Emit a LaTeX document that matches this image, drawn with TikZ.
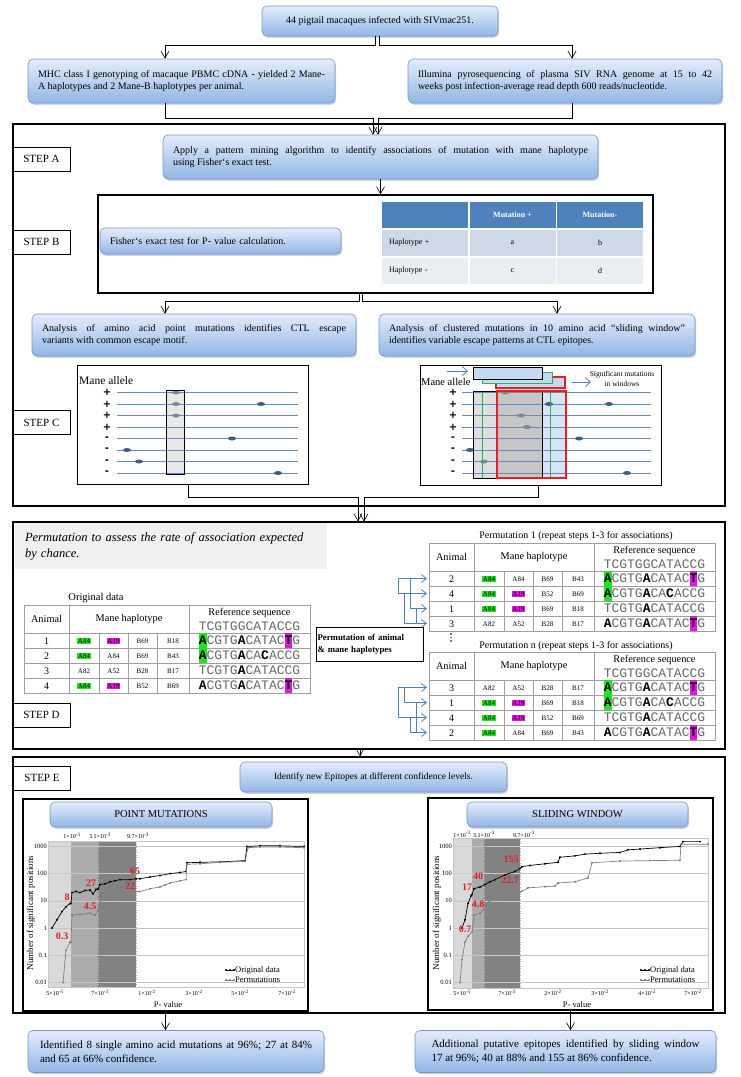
\documentclass[tikz,border=0pt]{standalone}
\usepackage{fontspec}
\setmainfont{Liberation Serif}
\setmonofont{Liberation Mono}
\newfontfamily\signfont{DejaVu Sans}
\usetikzlibrary{calc,shadows,arrows.meta}

\definecolor{boxtop}{RGB}{228,237,250}
\definecolor{boxbot}{RGB}{146,182,229}
\definecolor{boxline}{RGB}{112,150,205}
\definecolor{hdrblue}{RGB}{79,129,189}
\definecolor{rowa}{RGB}{208,216,232}
\definecolor{rowb}{RGB}{233,237,244}
\definecolor{hlgreen}{RGB}{30,228,30}
\definecolor{hlmag}{RGB}{228,20,228}
\definecolor{lineblue}{RGB}{105,138,186}
\definecolor{dotblue}{RGB}{62,92,136}
\definecolor{dotgray}{RGB}{122,136,160}
\definecolor{winblue}{RGB}{198,217,240}
\definecolor{winred}{RGB}{228,32,32}
\definecolor{wingreen}{RGB}{40,178,92}
\definecolor{arrblue}{RGB}{79,129,189}
\definecolor{numred}{RGB}{224,30,36}
\definecolor{permgray}{RGB}{240,240,240}

\newcommand\grnbox[1]{{\fboxsep=0.6pt\colorbox{hlgreen}{#1}}}
\newcommand\magbox[1]{{\fboxsep=0.6pt\colorbox{hlmag}{#1}}}
\newcommand\seqb[1]{{\bfseries\color{black}#1}}
\newcommand\seqg[1]{{\fboxsep=0pt\colorbox{hlgreen}{\rule[-3.5pt]{0pt}{15pt}\bfseries\color{black}#1}}}
\newcommand\seqm[1]{{\fboxsep=0pt\colorbox{hlmag}{\rule[-3.5pt]{0pt}{15pt}\bfseries\color{black}#1}}}

% grid of an animal table, drawn inside a shifted scope
\newcommand\hapgrid[1]{%
  \draw[tabline] (0,0) rectangle (286,88);
  \draw[tabline] (45,0) -- (45,88) (165,0) -- (165,88);
  \foreach \yy in {28,43,58,73} \draw[tabline] (0,\yy) -- (286,\yy);
  \foreach \xx in {75,104,133} \draw[tabline] (\xx,28) -- (\xx,88);
  \node[thead] (#1an) at (22.5,14) {Animal};
  \node[thead] (#1mh) at (105,14) {Mane haplotype};
  \node[thead] (#1rs) at (225.5,8) {Reference sequence};
  \node[seqtxt] (#1ref) at (225.5,25.5) {TCGTGGCATACCG};
}
% one row: prefix, row, animal, four haplotypes, sequence
\newcommand\haprow[8]{%
  \pgfmathsetmacro\hrb{24.5+15*#2}
  \pgfmathsetmacro\hrs{23+15*#2}
  \node[tnum] (#1a#2) at (22.5,\hrb) {#3};
  \node[thap] (#1h#2a) at (60,\hrs) {#4};
  \node[thap] (#1h#2b) at (89.5,\hrs) {#5};
  \node[thap] (#1h#2c) at (118.5,\hrs) {#6};
  \node[thap] (#1h#2d) at (149,\hrs) {#7};
  \node[seqtxt] (#1s#2) at (225.5,\hrb) {#8};
}

\tikzset{
  bluebox/.style={draw=boxline, line width=0.6pt, rounded corners=5pt,
    top color=boxtop, bottom color=boxbot,
    drop shadow={shadow xshift=1.2pt, shadow yshift=-1.8pt, opacity=0.35},
    font=\fontsize{10}{12.5}\selectfont, inner xsep=10pt, inner ysep=3pt},
  stepframe/.style={draw, line width=1.2pt, inner sep=0pt},
  steplabel/.style={draw, fill=white, line width=0.7pt, minimum width=57pt,
    minimum height=24pt, inner sep=0pt, font=\fontsize{11}{12}\selectfont},
  arr/.style={line width=0.6pt, -{Straight Barb[length=7pt,width=8pt]}},
  plotframe/.style={draw, line width=0.8pt, inner sep=0pt},
  graphframe/.style={draw, line width=1.3pt, inner sep=0pt},
  rowline/.style={draw=lineblue, line width=0.7pt},
  sign/.style={font=\signfont\bfseries\fontsize{10}{10}\selectfont, inner sep=0pt},
  tabline/.style={draw=gray!75, line width=0.6pt},
  thead/.style={font=\fontsize{10.3}{11}\selectfont, inner sep=0pt},
  tnum/.style={anchor=base, font=\fontsize{10}{11}\selectfont, inner sep=0pt},
  thap/.style={anchor=base, font=\fontsize{7}{8}\selectfont, inner sep=0pt},
  seqtxt/.style={anchor=base, inner sep=0pt, text=black!60,
    font=\ttfamily\fontsize{13}{13}\selectfont},
  thcell/.style={minimum width=86pt, minimum height=26pt, inner sep=0pt,
    font=\fontsize{8}{9}\selectfont},
  permarr/.style={draw=arrblue, line width=0.8pt, -{Straight Barb[length=5pt,width=8pt]}},
  winarr/.style={draw=arrblue, line width=0.8pt, -{Straight Barb[length=5pt,width=9pt]}},
  gridline/.style={draw=gray!45, line width=0.4pt},
  cutline/.style={draw=gray!60, line width=0.4pt, dotted},
  ytick/.style={anchor=east, font=\fontsize{6.5}{7}\selectfont, inner sep=1pt},
  xtick/.style={font=\fontsize{6}{7}\selectfont, inner sep=0pt},
  origcurve/.style={draw=black, line width=0.7pt, mark=*, mark size=0.6pt},
  permcurve/.style={draw=gray, line width=0.7pt, mark=*, mark size=0.6pt,
    mark options={fill=gray}},
  rednum/.style={text=numred, font=\bfseries\fontsize{10}{11}\selectfont, inner sep=0pt},
  legtxt/.style={anchor=west, font=\fontsize{8.5}{9}\selectfont, inner sep=0pt},
  shadeA/.style={fill=gray!30},
  shadeB/.style={fill=gray!66},
  shadeC/.style={fill=gray!98},
}

\begin{document}
\begin{tikzpicture}[x=1pt, y=-1pt]
\useasboundingbox (0,0) rectangle (740,1077);

%% animals and data
\node[bluebox, minimum width=236pt, minimum height=30pt] (pigtail) at (380,21) {44 pigtail macaques infected with SIVmac251.};
\node[bluebox, text width=287pt, minimum height=44pt, align=justify] (mhc) at (181.5,81) {MHC class I genotyping of macaque PBMC cDNA - yielded 2 Mane-\linebreak A haplotypes and 2 Mane-B haplotypes per animal.};
\node[bluebox, text width=294pt, minimum height=44pt, align=justify] (illumina) at (565,81) {Illumina pyrosequencing of plasma SIV RNA genome at 15 to 42\linebreak weeks post infection-average read depth 600 reads/nucleotide.};

\draw[arr] ([xshift=-5pt]pigtail.south) -- ++(0,9) -| ([xshift=-16.5pt]mhc.north);
\draw[arr] ([xshift=-1pt]pigtail.south) -- ++(0,9) -| ([xshift=7pt]illumina.north);

%% steps A to C
\node[stepframe, minimum width=712pt, minimum height=382pt] (frameAC) at (369,315) {};
\node[steplabel] (labA) at (41.5,159) {STEP A};
\node[bluebox, text width=415pt, minimum height=44pt, align=justify] (stepA) at (380.5,157) {Apply a pattern mining algorithm to identify associations of mutation with mane haplotype\linebreak using Fisher`s exact test.};
\draw[arr] ([xshift=-16.5pt]mhc.south) -- ++(0,15) -| ([xshift=-7.5pt]stepA.north);
\draw[arr] ([xshift=7pt]illumina.south) -- ++(0,15) -| ([xshift=-2.5pt]stepA.north);

\node[stepframe, line width=1.5pt, minimum width=555pt, minimum height=98pt] (stepB) at (375.5,244) {};
\draw[arr] (stepA.south) -- (stepA.south |- stepB.north);
\node[steplabel] (labB) at (41.5,242) {STEP B};
\node[bluebox, minimum width=241pt, minimum height=26pt, text width=221pt, align=left] (fisher) at (220.5,241) {Fisher`s exact test for P- value calculation.};

% contingency table
\node[thcell, fill=hdrblue] (tb11) at (425,215) {};
\node[thcell, fill=hdrblue, text=white, font=\bfseries\fontsize{8}{9}\selectfont] (tb12) at (512.5,215) {Mutation +};
\node[thcell, fill=hdrblue, text=white, font=\bfseries\fontsize{8}{9}\selectfont] (tb13) at (600,215) {Mutation-};
\node[thcell, fill=rowa, text width=72pt, align=left] (tb21) at (425,243) {Haplotype +};
\node[thcell, fill=rowa] (tb22) at (512.5,243) {a};
\node[thcell, fill=rowa] (tb23) at (600,243) {b};
\node[thcell, fill=rowb, text width=72pt, align=left] (tb31) at (425,271) {Haplotype -};
\node[thcell, fill=rowb] (tb32) at (512.5,271) {c};
\node[thcell, fill=rowb] (tb33) at (600,271) {d};

\node[bluebox, text width=304pt, minimum height=42pt, align=justify] (anL) at (194,335) {Analysis of amino acid point mutations identifies CTL escape\linebreak variants with common escape motif.};
\node[bluebox, text width=296pt, minimum height=42pt, align=justify] (anR) at (537,335) {Analysis of clustered mutations in 10 amino acid ``sliding window''\linebreak identifies variable escape patterns at CTL epitopes.};
\draw[arr] ([xshift=-16.5pt]stepB.south) -- ++(0,8) -| ([xshift=-29pt]anL.north);
\draw[arr] ([xshift=-13.5pt]stepB.south) -- ++(0,8) -| ([xshift=20pt]anR.north);

\node[steplabel] (labC) at (41.5,422.5) {STEP C};

% point mutations sketch
\node[plotframe, minimum width=231pt, minimum height=119pt] (plotL) at (192.5,424.5) {};
\node[anchor=west, inner sep=0pt, font=\fontsize{11.5}{12}\selectfont] (maneL) at (79,381) {Mane allele};
\fill[gray!18] (166,390) rectangle (184,474);
\foreach \s [count=\i] in {+,+,+,+,-,-,-,-} {
  \node[sign] (sgL\i) at (107,{381+11.5*\i}) {\s};
  \draw[rowline] (117,{381+11.5*\i}) -- (298,{381+11.5*\i});
}
\foreach \x/\r/\c in {176/1/dotgray,176/2/dotgray,261/2/dotblue,176/3/dotgray,232/5/dotblue,127/6/dotblue,139/7/dotblue,278/8/dotblue}
  \fill[\c] (\x,{381+11.5*\r}) ellipse (4pt and 2pt);
\draw[line width=0.8pt] (166,390) rectangle (184,474);

% sliding window sketch
\node[plotframe, minimum width=241pt, minimum height=120pt] (plotR) at (540.5,425) {};
\node[anchor=west, inner sep=0pt, font=\fontsize{10.5}{11}\selectfont] (maneR) at (421,382) {Mane allele};
\fill[winblue!70] (497,391) rectangle (566,478);
\fill[gray!25] (473,391) rectangle (542,478);
\fill[gray!45] (497,391) rectangle (542,478);
\foreach \s [count=\i] in {+,+,+,+,-,-,-,-} {
  \node[sign] (sgR\i) at (453,{381+11.5*\i}) {\s};
  \draw[rowline] (462,{381+11.5*\i}) -- (651,{381+11.5*\i});
}
\foreach \x/\r/\c in {505/1/dotgray,549/2/dotblue,609/2/dotblue,521/3/dotgray,527/4/dotgray,579/5/dotblue,470/6/dotblue,484/7/dotgray,627/8/dotblue}
  \fill[\c] (\x,{381+11.5*\r}) ellipse (4pt and 2pt);
\draw[wingreen, line width=1pt] (482,391) rectangle (550,478);
\draw[line width=1pt] (473,391) rectangle (542,478);
\draw[winred, line width=1.1pt] (497,391) rectangle (566,478);
\filldraw[fill=winblue, draw=winred, line width=1.1pt] (496,377) rectangle (565,388);
\filldraw[fill=winblue, draw=wingreen, line width=1pt] (482,372) rectangle (552,383);
\filldraw[fill=winblue, draw=black, line width=1pt] (473,367) rectangle (542,379);
\coordinate (wa1) at (447,371);
\coordinate (wa2) at (468,371);
\coordinate (wb1) at (572,382);
\coordinate (wb2) at (591,382);
\draw[winarr] (wa1) -- (wa2);
\draw[winarr] (wb1) -- (wb2);
\node[align=center, inner sep=0pt, font=\fontsize{7.5}{9.5}\selectfont] (signote) at (622,379) {Significant mutations\\in windows};

%% step D
\node[stepframe, minimum width=712pt, minimum height=227pt] (frameD) at (369,635.5) {};
\draw[arr] ([xshift=-4.5pt]plotL.south) -- ++(0,13) -| ([xshift=-11pt]frameD.north);
\draw[arr] ([xshift=-2.5pt]plotR.south) -- ++(0,12) -| ([xshift=-5pt]frameD.north);
\node[fill=permgray, minimum width=312pt, minimum height=46pt, text width=292pt, align=left, inner xsep=10pt, font=\itshape\fontsize{12.5}{16}\selectfont] (permnote) at (171,546) {Permutation to assess the rate of association expected\\by chance.};
\node[steplabel] (labD) at (41.5,715) {STEP D};
\node[font=\fontsize{10.5}{12}\selectfont, inner sep=0pt] (origtitle) at (96,598) {Original data};
\begin{scope}[shift={(24,605)}]
  \hapgrid{o}
  \haprow{o}{1}{1}{\grnbox{A84}}{\magbox{A19}}{B69}{B18}{\seqg{A}CGTG\seqb{A}CATAC\seqm{T}G}
  \haprow{o}{2}{2}{\grnbox{A84}}{A84}{B69}{B43}{\seqg{A}CGTG\seqb{A}CA\seqb{C}ACCG}
  \haprow{o}{3}{3}{A82}{A52}{B28}{B17}{TCGTG\seqb{A}CATACCG}
  \haprow{o}{4}{4}{\grnbox{A84}}{\magbox{A19}}{B52}{B69}{\seqb{A}CGTG\seqb{A}CATAC\seqm{T}G}
\end{scope}
\node[draw, line width=0.7pt, minimum width=107pt, minimum height=34pt, text width=104pt, inner xsep=1.5pt, align=left, font=\bfseries\fontsize{8.8}{12}\selectfont] (permbox) at (369.5,644) {Permutation of animal\\\& mane haplotypes};

\node[font=\fontsize{10}{11}\selectfont, inner sep=0pt] (p1title) at (576,536) {Permutation 1 (repeat steps 1-3 for associations)};
\begin{scope}[shift={(429,543)}]
  \hapgrid{p}
  \haprow{p}{1}{2}{\grnbox{A84}}{A84}{B69}{B43}{\seqg{A}CGTG\seqb{A}CATAC\seqm{T}G}
  \haprow{p}{2}{4}{\grnbox{A84}}{\magbox{A19}}{B52}{B69}{\seqg{A}CGTG\seqb{A}CA\seqb{C}ACCG}
  \haprow{p}{3}{1}{\grnbox{A84}}{\magbox{A19}}{B69}{B18}{TCGTG\seqb{A}CATACCG}
  \haprow{p}{4}{3}{A82}{A52}{B28}{B17}{\seqb{A}CGTG\seqb{A}CATAC\seqm{T}G}
\end{scope}
\node[font=\fontsize{10}{11}\selectfont, inner sep=0pt] (pntitle) at (576,646) {Permutation n (repeat steps 1-3 for associations)};
\begin{scope}[shift={(429,652)}]
  \hapgrid{q}
  \haprow{q}{1}{3}{A82}{A52}{B28}{B17}{\seqg{A}CGTG\seqb{A}CATAC\seqm{T}G}
  \haprow{q}{2}{1}{\grnbox{A84}}{\magbox{A19}}{B69}{B18}{\seqg{A}CGTG\seqb{A}CA\seqb{C}ACCG}
  \haprow{q}{3}{4}{\grnbox{A84}}{\magbox{A19}}{B52}{B69}{TCGTG\seqb{A}CATACCG}
  \haprow{q}{4}{2}{\grnbox{A84}}{A84}{B69}{B43}{\seqb{A}CGTG\seqb{A}CATAC\seqm{T}G}
\end{scope}
\coordinate (dt1) at (451,633);
\coordinate (dt2) at (451,643);
\draw[arrblue, line width=1.6pt, dotted] (dt1) -- (dt2);

% shuffled rows
\foreach \i/\y in {1/578.5,2/593.5,3/608.5,4/623.5} \coordinate (pa\i) at (427,\y);
\foreach \i/\y in {1/687.5,2/702.5,3/717.5,4/732.5} \coordinate (qa\i) at (427,\y);
\draw[permarr] ([xshift=-4pt]pa2) -- ([xshift=-29pt]pa2) |- (pa1);
\draw[permarr] ([xshift=-4pt]pa4) -- ([xshift=-23pt]pa4) |- (pa2);
\draw[permarr] ([xshift=-4pt]pa1) -- ([xshift=-17pt]pa1) |- (pa3);
\draw[permarr] ([xshift=-4pt]pa3) -- ([xshift=-11pt]pa3) |- (pa4);
\draw[permarr] ([xshift=-4pt]qa3) -- ([xshift=-29pt]qa3) |- (qa1);
\draw[permarr] ([xshift=-4pt]qa1) -- ([xshift=-23pt]qa1) |- (qa2);
\draw[permarr] ([xshift=-4pt]qa4) -- ([xshift=-17pt]qa4) |- (qa3);
\draw[permarr] ([xshift=-4pt]qa2) -- ([xshift=-11pt]qa2) |- (qa4);

%% step E
\node[stepframe, minimum width=712pt, minimum height=256pt] (frameE) at (369,885) {};
\draw[arr] ([xshift=-9pt]frameD.south) -- ([xshift=-9pt]frameE.north);
\node[steplabel] (labE) at (42,778) {STEP E};
\node[bluebox, minimum width=267pt, minimum height=30pt, font=\fontsize{9.5}{11}\selectfont] (identify) at (373.5,777) {Identify new Epitopes at different confidence levels.};

% point mutations graph
\node[graphframe, minimum width=285pt, minimum height=212pt] (gpm) at (165.5,905) {};
\node[bluebox, minimum width=222pt, minimum height=25pt, font=\fontsize{10.5}{12}\selectfont] (pmtitle) at (161,814.5) {POINT MUTATIONS};
\begin{scope}[shift={(0,928)}, y=27.2pt]
  \fill[shadeA] (48,-2.17) rectangle (71,3.2);
  \fill[shadeB] (71,-2.17) rectangle (98,3.2);
  \fill[shadeC] (98,-2.17) rectangle (136,3.2);
  \draw[cutline] (71,-2.17) -- (71,3.2) (98,-2.17) -- (98,3.2) (136,-2.17) -- (136,3.2);
  \foreach \l in {-2,...,3} \draw[gridline] (48,\l) -- (304,\l);
  \draw[gridline] (48,-2.17) rectangle (304,3.2);
  \foreach \l/\lab [count=\k] in {3/1000,2/100,1/10,0/1,-1/0.1,-2/0.01}
    \node[ytick] (pmy\k) at (48,\l) {\lab};
  \foreach \x/\lab [count=\k] in {55/5×10\textsuperscript{-5},100/7×10\textsuperscript{-3},147/1×10\textsuperscript{-2},194/3×10\textsuperscript{-2},240/5×10\textsuperscript{-2},287/7×10\textsuperscript{-2}}
    \node[xtick] (pmx\k) at (\x,-2.39) {\lab};
  \foreach \x/\lab [count=\k] in {72/1×10\textsuperscript{-3},100/3.1×10\textsuperscript{-3},138/9.7×10\textsuperscript{-3}}
    \node[xtick] (pmt\k) at (\x,3.38) {\lab};
  \draw[origcurve] plot coordinates {(52,0) (57,0.301) (62,0.602) (66,0.778) (70,0.903) (71,0.903) (72,1.301) (76,1.342) (80,1.301) (85,1.380) (90,1.398) (93,1.255) (96,1.415) (98,1.431) (100,1.602) (105,1.623) (110,1.699) (115,1.740) (120,1.778) (130,1.778) (136,1.813) (140,1.813) (150,1.875) (160,1.929) (170,2) (180,2.041) (186,2.079) (187,2.398) (200,2.415) (220,2.431) (245,2.477) (247,3) (260,3.021) (280,3.021) (304,3)};
  \draw[permcurve] plot coordinates {(63,-2) (66,-0.824) (70,-0.523) (71,-0.523) (72,0.477) (80,0.505) (90,0.544) (95,0.477) (98,0.653) (100,1) (110,1.079) (120,1.255) (130,1.301) (136,1.342) (140,1.342) (150,1.447) (160,1.505) (165,1.580) (170,1.653) (180,1.740) (186,1.778) (187,2.342) (200,2.362) (220,2.415) (245,2.447) (248,2.954) (260,2.978) (280,2.978) (304,2.954)};
\end{scope}
\node[rotate=90, inner sep=0pt, font=\fontsize{9}{10}\selectfont] (pmylab) at (31,913) {Number of significant positions};
\node[inner sep=0pt, font=\fontsize{8.5}{9}\selectfont] (pmxlab) at (168,1005) {P- value};
\node[rednum] (pm65) at (135,871) {65};
\node[rednum] (pm27) at (91,883) {27};
\node[rednum] (pm8) at (67,897) {8};
\node[rednum] (pm22) at (130,886) {22};
\node[rednum] (pm45) at (90,906) {4.5};
\node[rednum] (pm03) at (62,936) {0.3};
\draw[origcurve] plot coordinates {(226,970) (230,970) (234,970)};
\draw[permcurve] plot coordinates {(226,980) (230,980) (234,980)};
\node[legtxt] (pmleg1) at (235,970) {Original data};
\node[legtxt] (pmleg2) at (235,980) {Permutations};

% sliding window graph
\node[graphframe, minimum width=285pt, minimum height=212pt] (gsw) at (570.5,904) {};
\node[bluebox, minimum width=221pt, minimum height=25pt, font=\fontsize{10.5}{12}\selectfont] (swtitle) at (577.5,814.5) {SLIDING WINDOW};
\begin{scope}[shift={(0,928)}, y=27.2pt]
  \fill[shadeA] (453,-2.2) rectangle (472,3.31);
  \fill[shadeB] (472,-2.2) rectangle (484,3.31);
  \fill[shadeC] (484,-2.2) rectangle (520,3.31);
  \draw[cutline] (472,-2.2) -- (472,3.31) (484,-2.2) -- (484,3.31) (520,-2.2) -- (520,3.31);
  \foreach \l in {-2,...,3} \draw[gridline] (453,\l) -- (708,\l);
  \draw[gridline] (453,-2.2) rectangle (708,3.31);
  \foreach \l/\lab [count=\k] in {3/1000,2/100,1/10,0/1,-1/0.1,-2/0.01}
    \node[ytick] (swy\k) at (453,\l) {\lab};
  \foreach \x/\lab [count=\k] in {462/5×10\textsuperscript{-5},507/7×10\textsuperscript{-3},553/2×10\textsuperscript{-2},600/3×10\textsuperscript{-2},647/4×10\textsuperscript{-2},693/7×10\textsuperscript{-2}}
    \node[xtick] (swx\k) at (\x,-2.39) {\lab};
  \foreach \x/\lab [count=\k] in {462/1×10\textsuperscript{-3},484/3.1×10\textsuperscript{-3},524/9.7×10\textsuperscript{-3}}
    \node[xtick] (swt\k) at (\x,3.45) {\lab};
  \draw[origcurve] plot coordinates {(462,0) (465,0.301) (468,0.903) (471,1.176) (472,1.230) (474,1.447) (480,1.505) (485,1.602) (490,1.699) (495,1.778) (505,1.954) (515,2.079) (520,2.190) (522,2.255) (530,2.301) (545,2.362) (558,2.415) (560,2.602) (575,2.653) (585,2.716) (600,2.748) (620,2.778) (628,2.875) (640,2.903) (660,2.954) (680,3) (683,3.176) (700,3.176)};
  \draw[permcurve] plot coordinates {(460,-2) (462,-1.155) (465,-0.523) (468,-0.301) (472,-0.155) (474,0.477) (480,0.544) (484,0.681) (486,0.903) (490,1) (500,1.146) (510,1.255) (520,1.301) (522,1.356) (528,1.477) (545,1.519) (555,1.544) (558,1.653) (575,1.699) (588,1.845) (592,2.398) (620,2.462) (650,2.477) (680,2.491) (681,3.079) (708,3.079)};
\end{scope}
\node[rotate=90, inner sep=0pt, font=\fontsize{9}{10}\selectfont] (swylab) at (437,913) {Number of significant positions};
\node[inner sep=0pt, font=\fontsize{8.5}{9}\selectfont] (swxlab) at (577,1005) {P- value};
\node[rednum] (sw155) at (511,859) {155};
\node[rednum] (sw40) at (478,876) {40};
\node[rednum] (sw17) at (467,887) {17};
\node[rednum] (sw227) at (510,880) {22.7};
\node[rednum] (sw48) at (478,904) {4.8};
\node[rednum] (sw07) at (465,929) {0.7};
\draw[origcurve] plot coordinates {(641,970) (645,970) (649,970)};
\draw[permcurve] plot coordinates {(641,980) (645,980) (649,980)};
\node[legtxt] (swleg1) at (650,970) {Original data};
\node[legtxt] (swleg2) at (650,980) {Permutations};

%% results
\node[bluebox, minimum width=296pt, text width=272pt, minimum height=42pt, align=justify, font=\fontsize{11}{13.5}\selectfont] (resL) at (176,1051.5) {Identified 8 single amino acid mutations at 96\%; 27 at 84\%\linebreak and 65 at 66\% confidence.};
\node[bluebox, minimum width=301pt, text width=268pt, minimum height=42pt, align=justify, font=\fontsize{11}{13.5}\selectfont] (resR) at (565.5,1051.5) {Additional putative epitopes identified by sliding window\linebreak 17 at 96\%; 40 at 88\% and 155 at 86\% confidence.};
\draw[arr] (gpm.south) -- (gpm.south |- resL.north);
\draw[arr] (gsw.south) -- (gsw.south |- resR.north);
\end{tikzpicture}
\end{document}
